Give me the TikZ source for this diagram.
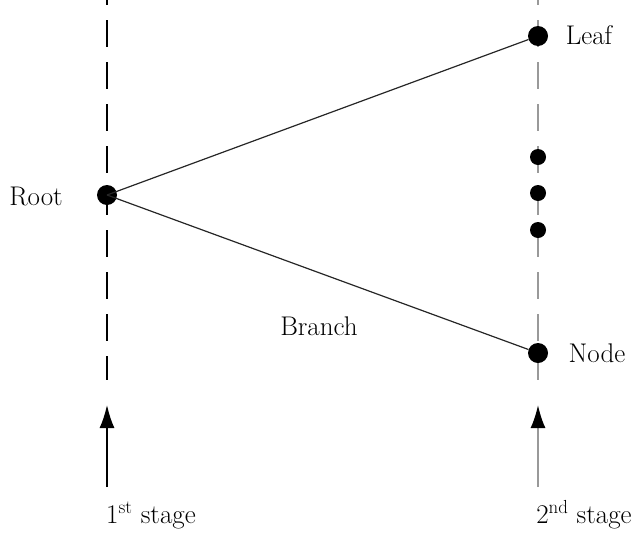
\documentclass[tikz,border=0pt]{standalone}
\usetikzlibrary{arrows.meta}
\begin{document}
\begin{tikzpicture}[x=1pt,y=-1pt,
  bigdot/.style={circle,fill=black,inner sep=0pt,minimum size=20pt},
  smalldot/.style={circle,fill=black,inner sep=0pt,minimum size=16pt},
  lbl/.style={font=\fontsize{27}{32}\selectfont,inner sep=0pt,anchor=base},
  stageline/.style={dash pattern=on 27pt off 15pt,dash phase=22pt},
  branchline/.style={line width=1.2pt,black!85},
  stagearrow/.style={-{Latex[length=23pt,width=15pt,color=black]}}]
\useasboundingbox (0,0) rectangle (640,536);
% stage lines
\coordinate (l1top) at (107,0);
\coordinate (l1bot) at (107,380);
\coordinate (l2top) at (538,0);
\coordinate (l2bot) at (538,380);
\draw[stageline,line width=1.4pt,black] (l1top) -- (l1bot);
\draw[stageline,line width=1.9pt,black!40] (l2top) -- (l2bot);
% dots
\node[bigdot] (root) at (107,195) {};
\node[bigdot] (leaf) at (538,36) {};
\node[bigdot] (nd) at (538,353) {};
\node[smalldot] (d1) at (538,157) {};
\node[smalldot] (d2) at (538,193) {};
\node[smalldot] (d3) at (538,230) {};
% branches
\draw[branchline] (root.center) -- (leaf);
\draw[branchline] (root.center) -- (nd);
% labels
\node[lbl] (rootlbl) at (36,205) {Root};
\node[lbl] (leaflbl) at (589,44) {Leaf};
\node[lbl] (nodelbl) at (597,362) {Node};
\node[lbl] (branchlbl) at (319,335) {Branch};
\node[lbl] (s1) at (151,523) {1\textsuperscript{st} stage};
\node[lbl] (s2) at (584,523) {2\textsuperscript{nd} stage};
% arrows
\coordinate (a1s) at (107,487);
\coordinate (a1e) at (107,405);
\coordinate (a2s) at (538,487);
\coordinate (a2e) at (538,405);
\draw[stagearrow,line width=1.6pt,black] (a1s) -- (a1e);
\draw[stagearrow,line width=1.9pt,black!40] (a2s) -- (a2e);
\end{tikzpicture}
\end{document}
